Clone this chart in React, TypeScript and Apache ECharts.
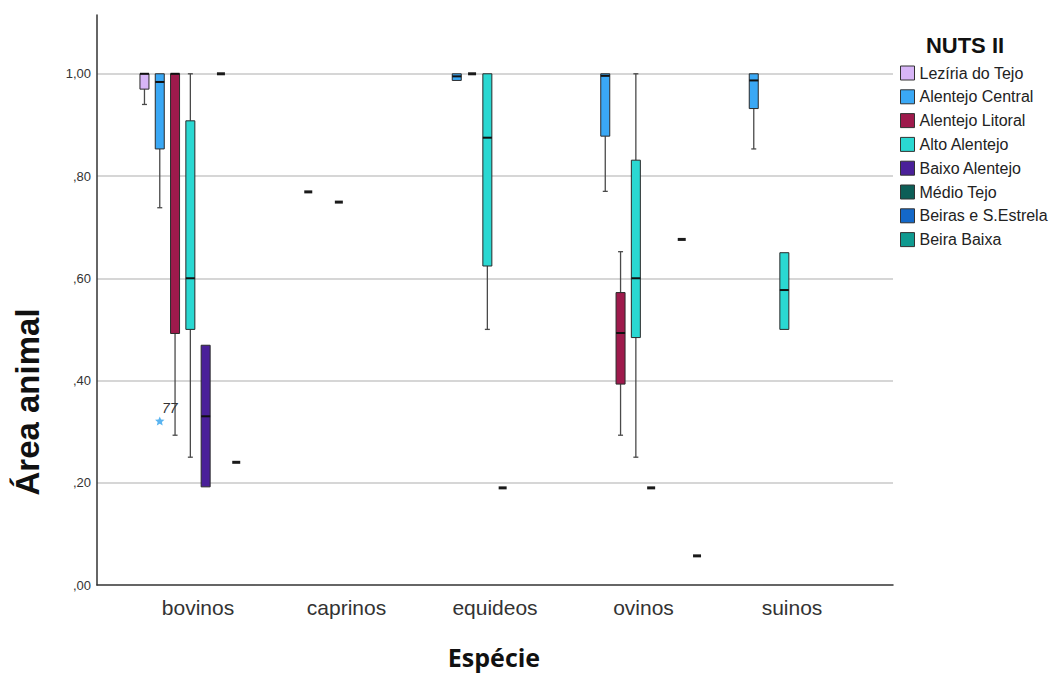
import React, { useEffect, useRef } from "react";
import * as echarts from "echarts";

// ---- data ----
const categories = ["bovinos", "caprinos", "equideos", "ovinos", "suinos"];
const yTickLabels = [",00", ",20", ",40", ",60", ",80", "1,00"];
const seriesNames = [
  "Lezíria do Tejo",
  "Alentejo Central",
  "Alentejo Litoral",
  "Alto Alentejo",
  "Baixo Alentejo",
  "Médio Tejo",
  "Beiras e S.Estrela",
  "Beira Baixa",
];
const seriesColors = ["#d7b5f7", "#3aa8f5", "#9e1a4c", "#2ad8d2", "#4a2099", "#0d5e57", "#1468c8", "#0f9a90"];

// [min, q1, median, q3, max] per category (null = no data)
const leziriaTejo = [[0.94, 0.97, 1.0, 1.0, 1.0], null, null, null, null];
const alentejoCentral = [
  [0.738, 0.853, 0.984, 1.0, 1.0],
  [0.769, 0.769, 0.769, 0.769, 0.769],
  [0.987, 0.987, 0.995, 1.0, 1.0],
  [0.77, 0.878, 0.996, 1.0, 1.0],
  [0.853, 0.932, 0.987, 1.0, 1.0],
];
const alentejoLitoral = [
  [0.293, 0.492, 1.0, 1.0, 1.0],
  null,
  [1.0, 1.0, 1.0, 1.0, 1.0],
  [0.293, 0.393, 0.493, 0.572, 0.652],
  null,
];
const altoAlentejo = [
  [0.25, 0.5, 0.6, 0.908, 1.0],
  [0.749, 0.749, 0.749, 0.749, 0.749],
  [0.5, 0.624, 0.875, 1.0, 1.0],
  [0.25, 0.484, 0.6, 0.831, 1.0],
  [0.5, 0.5, 0.577, 0.65, 0.65],
];
const baixoAlentejo = [
  [0.192, 0.192, 0.33, 0.469, 0.469],
  null,
  [0.19, 0.19, 0.19, 0.19, 0.19],
  [0.19, 0.19, 0.19, 0.19, 0.19],
  null,
];
const medioTejo = [[1.0, 1.0, 1.0, 1.0, 1.0], null, null, null, null];
const beirasEstrela = [[0.24, 0.24, 0.24, 0.24, 0.24], null, null, [0.676, 0.676, 0.676, 0.676, 0.676], null];
const beiraBaixa = [null, null, null, [0.057, 0.057, 0.057, 0.057, 0.057], null];

const allSeries = [leziriaTejo, alentejoCentral, alentejoLitoral, altoAlentejo, baixoAlentejo, medioTejo, beirasEstrela, beiraBaixa];

// outliers: [categoryIndex, seriesIndex, value, label]
const outliers = [[0, 1, 0.32, "77"]];

const SLOT_RATIO = 0.103;
const Y_MAX = 1.115;
const FONT = "'Liberation Sans', Arial, sans-serif";

function makeRender(slot: number, color: string) {
  return (params: any, api: any) => {
    const cat = api.value(0);
    const v = [api.value(1), api.value(2), api.value(3), api.value(4), api.value(5)];
    const band = api.size([1, 0])[0];
    const cx = api.coord([cat, 0])[0] + (slot - 3.5) * band * SLOT_RATIO;
    const y = (val: number) => api.coord([cat, val])[1];
    const half = 4.5;
    const children: any[] = [];
    if (v[0] === v[4]) {
      children.push({
        type: "rect",
        shape: { x: cx - 4, y: y(v[0]) - 1.5, width: 8, height: 3 },
        style: { fill: "#1a1a1a" },
      });
      return { type: "group", children };
    }
    const wStyle = { stroke: "#4a4a4a", lineWidth: 1.3 };
    if (v[4] > v[3]) {
      children.push({ type: "line", shape: { x1: cx, y1: y(v[4]), x2: cx, y2: y(v[3]) }, style: wStyle });
      children.push({ type: "line", shape: { x1: cx - 2.5, y1: y(v[4]), x2: cx + 2.5, y2: y(v[4]) }, style: wStyle });
    }
    if (v[1] > v[0]) {
      children.push({ type: "line", shape: { x1: cx, y1: y(v[1]), x2: cx, y2: y(v[0]) }, style: wStyle });
      children.push({ type: "line", shape: { x1: cx - 2.5, y1: y(v[0]), x2: cx + 2.5, y2: y(v[0]) }, style: wStyle });
    }
    const top = y(v[3]);
    const bot = y(v[1]);
    children.push({
      type: "rect",
      shape: { x: cx - half, y: top, width: half * 2, height: Math.max(bot - top, 1) },
      style: { fill: color, stroke: "#2a2a2a", lineWidth: 1 },
    });
    children.push({
      type: "line",
      shape: { x1: cx - half, y1: y(v[2]), x2: cx + half, y2: y(v[2]) },
      style: { stroke: "#111", lineWidth: 2 },
    });
    return { type: "group", children };
  };
}

function starPoints(cx: number, cy: number, r: number) {
  const pts: number[][] = [];
  for (let i = 0; i < 10; i++) {
    const a = -Math.PI / 2 + (i * Math.PI) / 5;
    const rr = i % 2 === 0 ? r : r * 0.45;
    pts.push([cx + rr * Math.cos(a), cy + rr * Math.sin(a)]);
  }
  return pts;
}

export default function App() {
  const ref = useRef<HTMLDivElement>(null);
  useEffect(() => {
    if (!ref.current) return;
    const chart = echarts.init(ref.current, null, { renderer: "svg" });
    const series: any[] = allSeries.map((arr, si) => ({
      type: "custom",
      name: seriesNames[si],
      xAxisIndex: 1,
      yAxisIndex: 1,
      itemStyle: { color: seriesColors[si] },
      renderItem: makeRender(si, seriesColors[si]),
      encode: { x: 0, y: [1, 2, 3, 4, 5] },
      data: arr
        .map((d, ci) => (d ? [ci, ...d] : null))
        .filter((d) => d !== null),
      silent: true,
    }));
    series.push({
      type: "custom",
      name: "outliers",
      xAxisIndex: 1,
      yAxisIndex: 1,
      encode: { x: 0, y: 2 },
      data: outliers.map((o) => [o[0], o[1], o[2], o[3]]),
      renderItem: (params: any, api: any) => {
        const o = outliers[params.dataIndex];
        const cat = o[0] as number;
        const slot = o[1] as number;
        const band = api.size([1, 0])[0];
        const p = api.coord([cat, o[2] as number]);
        const cx = p[0] + (slot - 3.5) * band * SLOT_RATIO;
        return {
          type: "group",
          children: [
            { type: "polygon", shape: { points: starPoints(cx, p[1], 5) }, style: { fill: "#5ab4f0" } },
            {
              type: "text",
              style: {
                text: o[3] as string,
                x: cx + 10,
                y: p[1] - 13,
                align: "center",
                verticalAlign: "middle",
                fontSize: 14,
                fontStyle: "italic",
                fontFamily: FONT,
                fill: "#333",
              },
            },
          ],
        };
      },
      silent: true,
    });

    chart.setOption({
      animation: false,
      backgroundColor: "#ffffff",
      grid: [
        { left: 97, right: 161, top: 15, bottom: 88, containLabel: false, outerBoundsMode: "none" },
        { left: 123.75, right: 187.75, top: 15, bottom: 88, containLabel: false, outerBoundsMode: "none" },
      ],
      xAxis: [
        {
          type: "value",
          gridIndex: 0,
          min: 0,
          max: 1,
          axisLine: { show: true, lineStyle: { color: "#333", width: 1.5 } },
          axisTick: { show: false },
          axisLabel: { show: false },
          splitLine: { show: false },
        },
        {
          type: "category",
          gridIndex: 1,
          data: categories,
          axisLine: { show: false },
          axisTick: { show: false },
          axisLabel: { fontSize: 21, color: "#333", fontFamily: FONT, margin: 12 },
          splitLine: { show: false },
        },
      ],
      yAxis: [
        {
          type: "value",
          gridIndex: 0,
          min: 0,
          max: Y_MAX,
          interval: 0.2,
          axisLine: { show: true, lineStyle: { color: "#333", width: 1.5 } },
          axisTick: { show: false },
          axisLabel: {
            showMaxLabel: false,
            fontSize: 13,
            color: "#333",
            fontFamily: FONT,
            margin: 6,
            formatter: (v: number) => {
              const i = Math.round(v / 0.2);
              return Math.abs(i * 0.2 - v) < 1e-6 ? yTickLabels[i] ?? "" : "";
            },
          },
          splitLine: { show: true, showMinLine: false, showMaxLine: false, lineStyle: { color: "#c8c8c8", width: 1.5 } },
        },
        {
          type: "value",
          gridIndex: 1,
          min: 0,
          max: Y_MAX,
          show: false,
          splitLine: { show: false },
        },
      ],
      legend: {
        data: seriesNames,
        orient: "vertical",
        left: 895,
        top: 60,
        icon: "rect",
        itemWidth: 14,
        itemHeight: 14,
        itemGap: 7.8,
        selectedMode: false,
        itemStyle: { borderColor: "#333", borderWidth: 1 },
        textStyle: { fontSize: 16, color: "#222", fontFamily: FONT },
      },
      graphic: [
        {
          type: "text",
          x: 965,
          y: 45,
          style: {
            text: "NUTS II",
            fontSize: 22,
            fontWeight: "bold",
            fill: "#111",
            fontFamily: FONT,
            align: "center",
            verticalAlign: "middle",
          },
        },
        {
          type: "text",
          x: 27,
          y: 402,
          rotation: Math.PI / 2,
          style: {
            text: "Área animal",
            fontSize: 33,
            fontWeight: "bold",
            fill: "#111",
            fontFamily: FONT,
            align: "center",
            verticalAlign: "middle",
          },
        },
        {
          type: "text",
          x: 494,
          y: 657,
          style: {
            text: "Espécie",
            fontSize: 25,
            fontWeight: "bold",
            fill: "#111",
            fontFamily: "'Open Sans', sans-serif",
            align: "center",
            verticalAlign: "middle",
          },
        },
      ],
      series,
    });
    return () => chart.dispose();
  }, []);
  return <div ref={ref} style={{ position: "fixed", left: 0, top: 0, width: 1054, height: 673 }} />;
}
